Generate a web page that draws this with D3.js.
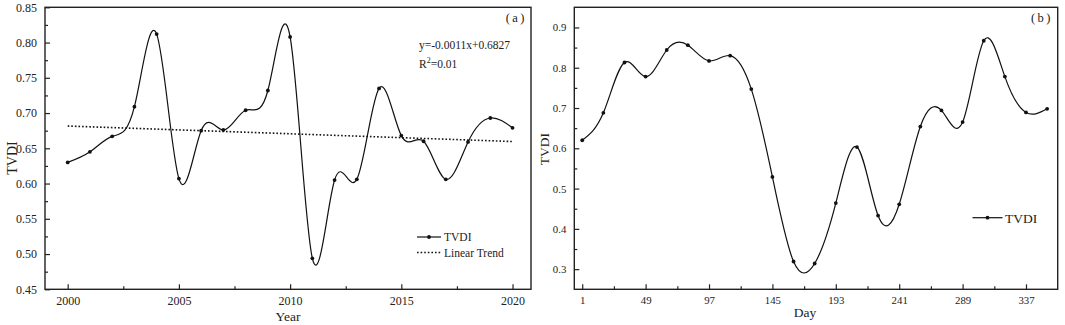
<!DOCTYPE html>
<html>
<head>
<meta charset="utf-8">
<script src="https://cdn.jsdelivr.net/npm/d3@7"></script>
<style>
  body { margin: 0; background: #fff; }
  svg text { font-family: "Times New Roman", "Liberation Serif", serif; fill: #222; }
</style>
</head>
<body>
<div id="container"></div>
<script>
// panel (a): yearly TVDI
let years = [2000, 2001, 2002, 2003, 2004, 2005, 2006, 2007, 2008, 2009, 2010,
             2011, 2012, 2013, 2014, 2015, 2016, 2017, 2018, 2019, 2020];
let tvdiYear = [0.630, 0.645, 0.667, 0.709, 0.812, 0.607, 0.675, 0.676, 0.704, 0.732, 0.808,
                0.494, 0.605, 0.606, 0.735, 0.668, 0.660, 0.606, 0.659, 0.693, 0.679];
let trendYears = [2000, 2020];
let trendValues = [0.6816, 0.6596];
let yearTicks = [2000, 2005, 2010, 2015, 2020];
let yearMinor = [2002.5, 2007.5, 2012.5, 2017.5];
let tvdiTicksA = [0.45, 0.50, 0.55, 0.60, 0.65, 0.70, 0.75, 0.80, 0.85];
let tvdiMinorA = [0.475, 0.525, 0.575, 0.625, 0.675, 0.725, 0.775, 0.825];

// panel (b): 16-day TVDI
let days = [1, 17, 33, 49, 65, 81, 97, 113, 129, 145, 161, 177,
            193, 209, 225, 241, 257, 273, 289, 305, 321, 337, 353];
let tvdiDay = [0.620, 0.688, 0.813, 0.778, 0.844, 0.856, 0.817, 0.830, 0.747, 0.529, 0.319, 0.314,
               0.464, 0.603, 0.433, 0.461, 0.654, 0.694, 0.665, 0.867, 0.778, 0.689, 0.698];
let dayTicks = [1, 49, 97, 145, 193, 241, 289, 337];
let dayMinor = [25, 73, 121, 169, 217, 265, 313];
let tvdiTicksB = [0.3, 0.4, 0.5, 0.6, 0.7, 0.8, 0.9];
let tvdiMinorB = [0.35, 0.45, 0.55, 0.65, 0.75, 0.85];

let w = 1065;
let h = 325;
let viz = d3.select("#container").append("svg")
    .attr("width", w)
    .attr("height", h)
    .style("background-color", "white");

let plotTop = 7.3;
let plotBottom = 289.3;

function drawAxes(g, xScale, yScale, xt, xm, yt, ym, xFmt, yFmt, fontSize) {
    let xAxis = d3.axisBottom(xScale).tickValues(xt).tickSize(-5).tickPadding(7).tickFormat(xFmt);
    let xAxisMinor = d3.axisBottom(xScale).tickValues(xm).tickSize(-3).tickFormat("");
    let yAxis = d3.axisLeft(yScale).tickValues(yt).tickSize(-5).tickPadding(8).tickFormat(yFmt);
    let yAxisMinor = d3.axisLeft(yScale).tickValues(ym).tickSize(-3).tickFormat("");

    let groups = [
        g.append("g").attr("transform", "translate(0," + plotBottom + ")").call(xAxis),
        g.append("g").attr("transform", "translate(0," + plotBottom + ")").call(xAxisMinor),
        g.append("g").attr("transform", "translate(" + xScale.range()[0] + ",0)").call(yAxis),
        g.append("g").attr("transform", "translate(" + xScale.range()[0] + ",0)").call(yAxisMinor)
    ];
    groups.forEach(function(a) {
        a.select(".domain").remove();
        a.selectAll("line").attr("stroke", "#222").attr("stroke-width", 1.2);
        a.selectAll("text")
            .attr("font-size", fontSize)
            .attr("font-family", "'Times New Roman', 'Liberation Serif', serif")
            .attr("fill", "#222");
    });

    // frame
    g.append("rect")
        .attr("x", xScale.range()[0])
        .attr("y", plotTop)
        .attr("width", xScale.range()[1] - xScale.range()[0])
        .attr("height", plotBottom - plotTop)
        .attr("fill", "none")
        .attr("stroke", "#222")
        .attr("stroke-width", 1.4);
}

// ---------------- panel (a)
let gA = viz.append("g");
let xA = d3.scaleLinear().domain([1998.98, 2020.83]).range([45, 531]);
let yA = d3.scaleLinear().domain([0.45, 0.85]).range([plotBottom, plotTop]);
drawAxes(gA, xA, yA, yearTicks, yearMinor, tvdiTicksA, tvdiMinorA,
    d3.format("d"), d3.format(".2f"), 12);

let lineA = d3.line()
    .x(function(d, i) { return xA(years[i]); })
    .y(function(d) { return yA(d); })
    .curve(d3.curveNatural);

gA.append("path")
    .datum(trendValues)
    .attr("d", d3.line().x(function(d, i) { return xA(trendYears[i]); }).y(function(d) { return yA(d); }))
    .attr("fill", "none")
    .attr("stroke", "#111")
    .attr("stroke-width", 1.6)
    .attr("stroke-dasharray", "1.6,2");

gA.append("path")
    .datum(tvdiYear)
    .attr("d", lineA)
    .attr("fill", "none")
    .attr("stroke", "#111")
    .attr("stroke-width", 1.2);

gA.selectAll(".dot")
    .data(tvdiYear)
    .enter()
    .append("circle")
    .attr("cx", function(d, i) { return xA(years[i]); })
    .attr("cy", function(d) { return yA(d); })
    .attr("r", 1.9)
    .attr("fill", "#111");

gA.append("text").attr("x", 288).attr("y", 321).attr("text-anchor", "middle")
    .attr("font-size", 13.5).text("Year");
gA.append("text").attr("transform", "translate(17,158) rotate(-90)").attr("text-anchor", "middle")
    .attr("font-size", 14).text("TVDI");
gA.append("text").attr("x", 527).attr("y", 22).attr("text-anchor", "end")
    .attr("font-size", 12.5).attr("letter-spacing", 2.5).text("(a)");
gA.append("text").attr("x", 419).attr("y", 49).attr("font-size", 11.5).text("y=-0.0011x+0.6827");
let r2 = gA.append("text").attr("x", 419).attr("y", 68).attr("font-size", 11.5);
r2.append("tspan").text("R");
r2.append("tspan").attr("font-size", 8).attr("dy", -5).text("2");
r2.append("tspan").attr("dy", 5).text("=0.01");

// legend (a)
gA.append("line").attr("x1", 417).attr("x2", 441).attr("y1", 237).attr("y2", 237)
    .attr("stroke", "#111").attr("stroke-width", 1.2);
gA.append("circle").attr("cx", 429).attr("cy", 237).attr("r", 1.9).attr("fill", "#111");
gA.append("text").attr("x", 444).attr("y", 241).attr("font-size", 11.5).text("TVDI");
gA.append("line").attr("x1", 417).attr("x2", 441).attr("y1", 252.5).attr("y2", 252.5)
    .attr("stroke", "#111").attr("stroke-width", 1.6).attr("stroke-dasharray", "1.6,2");
gA.append("text").attr("x", 444).attr("y", 256.5).attr("font-size", 11.5).text("Linear Trend");

// ---------------- panel (b)
let gB = viz.append("g");
let xB = d3.scaleLinear().domain([-5, 361]).range([574.3, 1057.7]);
let yB = d3.scaleLinear().domain([0.25, 0.95]).range([plotBottom, plotTop]);
drawAxes(gB, xB, yB, dayTicks, dayMinor, tvdiTicksB, tvdiMinorB,
    d3.format("d"), d3.format(".1f"), 10.8);

let lineB = d3.line()
    .x(function(d, i) { return xB(days[i]); })
    .y(function(d) { return yB(d); })
    .curve(d3.curveNatural);

gB.append("path")
    .datum(tvdiDay)
    .attr("d", lineB)
    .attr("fill", "none")
    .attr("stroke", "#111")
    .attr("stroke-width", 1.2);

gB.selectAll(".dot")
    .data(tvdiDay)
    .enter()
    .append("circle")
    .attr("cx", function(d, i) { return xB(days[i]); })
    .attr("cy", function(d) { return yB(d); })
    .attr("r", 1.9)
    .attr("fill", "#111");

gB.append("text").attr("x", 805).attr("y", 317).attr("text-anchor", "middle")
    .attr("font-size", 13.5).text("Day");
gB.append("text").attr("transform", "translate(549,149) rotate(-90)").attr("text-anchor", "middle")
    .attr("font-size", 13.5).text("TVDI");
gB.append("text").attr("x", 1053).attr("y", 22).attr("text-anchor", "end")
    .attr("font-size", 12.5).attr("letter-spacing", 2.5).text("(b)");

// legend (b)
gB.append("line").attr("x1", 972.5).attr("x2", 1002.5).attr("y1", 217.7).attr("y2", 217.7)
    .attr("stroke", "#111").attr("stroke-width", 1.2);
gB.append("circle").attr("cx", 987.5).attr("cy", 217.7).attr("r", 1.9).attr("fill", "#111");
gB.append("text").attr("x", 1005).attr("y", 222.5).attr("font-size", 13.5).text("TVDI");
</script>
</body>
</html>
